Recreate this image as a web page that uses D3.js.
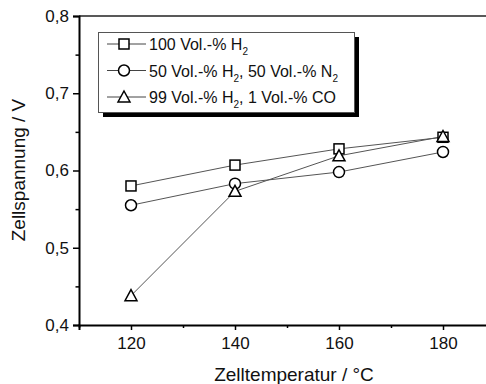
<!DOCTYPE html>
<html>
<head>
<meta charset="utf-8">
<script src="https://cdn.jsdelivr.net/npm/d3@7"></script>
<style>
  body { margin: 0; background: #fff; }
  text { font-family: "Liberation Sans", Arial, sans-serif; }
</style>
</head>
<body>
<script>
// data
var temps = [120, 140, 160, 180];
var h2_100 = [0.580, 0.607, 0.628, 0.643];
var h2_n2 = [0.555, 0.583, 0.598, 0.624];
var h2_co = [0.438, 0.573, 0.619, 0.644];
var xTicks = [120, 140, 160, 180];
var yTicks = [0.4, 0.5, 0.6, 0.7, 0.8];

var width = 486, height = 384;
var svg = d3.select("body").append("svg")
  .attr("width", width)
  .attr("height", height);

var x = d3.scaleLinear().domain([110, 190]).range([79, 495]);
var y = d3.scaleLinear().domain([0.4, 0.8]).range([325, 16]);

var fmt = function(d){ return d3.format(".1f")(d).replace(".", ","); };

// top frame line
svg.append("line")
  .attr("x1", x(110)).attr("x2", x(190))
  .attr("y1", y(0.8)).attr("y2", y(0.8))
  .attr("stroke", "#222").attr("stroke-width", 1.5);

// y axis
var yAxis = d3.axisLeft(y).tickValues(yTicks).tickFormat(fmt).tickSize(6).tickPadding(4);
var gy = svg.append("g").attr("transform", "translate(" + x(110) + ",0)").call(yAxis);
gy.selectAll("text").attr("font-size", 17).attr("fill", "#111");
svg.append("g").attr("transform", "translate(" + x(110) + ",0)")
  .call(d3.axisLeft(y).tickValues([0.45, 0.55, 0.65, 0.75]).tickFormat("").tickSize(3.5))
  .select(".domain").remove();

// x axis
var xAxis = d3.axisBottom(x).tickValues(xTicks).tickSize(5).tickPadding(7);
var gx = svg.append("g").attr("transform", "translate(0," + y(0.4) + ")").call(xAxis);
gx.selectAll("text").attr("font-size", 17).attr("fill", "#111");
svg.append("g").attr("transform", "translate(0," + y(0.4) + ")")
  .call(d3.axisBottom(x).tickValues([110, 130, 150, 170, 190]).tickFormat("").tickSize(3))
  .select(".domain").remove();

svg.selectAll(".domain").attr("stroke-width", 2).attr("stroke", "#000");
svg.selectAll(".tick line").attr("stroke-width", 1.5).attr("stroke", "#000");

// axis titles
svg.append("text")
  .attr("x", 294).attr("y", 381)
  .attr("text-anchor", "middle")
  .attr("font-size", 19)
  .attr("fill", "#111")
  .text("Zelltemperatur / °C");
svg.append("text")
  .attr("transform", "translate(25,170) rotate(-90)")
  .attr("text-anchor", "middle")
  .attr("font-size", 19)
  .attr("fill", "#111")
  .text("Zellspannung / V");

// series
var series = [
  { vals: h2_100, shape: "square" },
  { vals: h2_n2, shape: "circle" },
  { vals: h2_co, shape: "triangle" }
];

var drawMarker = function(g, shape, cx, cy){
  if (shape == "square") {
    g.append("rect").attr("x", cx - 5).attr("y", cy - 5).attr("width", 10).attr("height", 10)
      .attr("fill", "#fff").attr("stroke", "#000").attr("stroke-width", 1.5);
  } else if (shape == "circle") {
    g.append("circle").attr("cx", cx).attr("cy", cy).attr("r", 5.5)
      .attr("fill", "#fff").attr("stroke", "#000").attr("stroke-width", 1.5);
  } else {
    g.append("path").attr("d", "M" + cx + "," + (cy - 6) + "L" + (cx + 6) + "," + (cy + 5) + "L" + (cx - 6) + "," + (cy + 5) + "Z")
      .attr("fill", "#fff").attr("stroke", "#000").attr("stroke-width", 1.5);
  }
};

var line = d3.line().x(function(d, i){ return x(temps[i]); }).y(function(d){ return y(d); });

series.forEach(function(s){
  svg.append("path").attr("d", line(s.vals))
    .attr("fill", "none").attr("stroke", "#555").attr("stroke-width", 1);
});
series.forEach(function(s){
  var g = svg.append("g");
  s.vals.forEach(function(v, i){ drawMarker(g, s.shape, x(temps[i]), y(v)); });
});

// legend
var lg = svg.append("g");
lg.append("rect").attr("x", 103).attr("y", 37).attr("width", 256).attr("height", 80).attr("fill", "#000");
lg.append("rect").attr("x", 98.5).attr("y", 32.5).attr("width", 256).attr("height", 80)
  .attr("fill", "#fff").attr("stroke", "#555").attr("stroke-width", 1);

var legendRows = [
  { shape: "square", parts: [["100 Vol.-% H", false], ["2", true]] },
  { shape: "circle", parts: [["50 Vol.-% H", false], ["2", true], [", 50 Vol.-% N", false], ["2", true]] },
  { shape: "triangle", parts: [["99 Vol.-% H", false], ["2", true], [", 1 Vol.-% CO", false]] }
];
legendRows.forEach(function(r, i){
  var cy = 44 + i * 26.5;
  lg.append("line").attr("x1", 107).attr("x2", 146).attr("y1", cy).attr("y2", cy)
    .attr("stroke", "#444").attr("stroke-width", 1);
  drawMarker(lg, r.shape, 124, cy);
  var t = lg.append("text").attr("x", 149).attr("y", cy + 6).attr("font-size", 16).attr("fill", "#111");
  r.parts.forEach(function(p){
    var ts = t.append("tspan").text(p[0]);
    if (p[1]) ts.attr("font-size", 10).attr("dy", 5);
    else if (t.selectAll("tspan").size() > 1) ts.attr("dy", -5);
  });
});
</script>
</body>
</html>
